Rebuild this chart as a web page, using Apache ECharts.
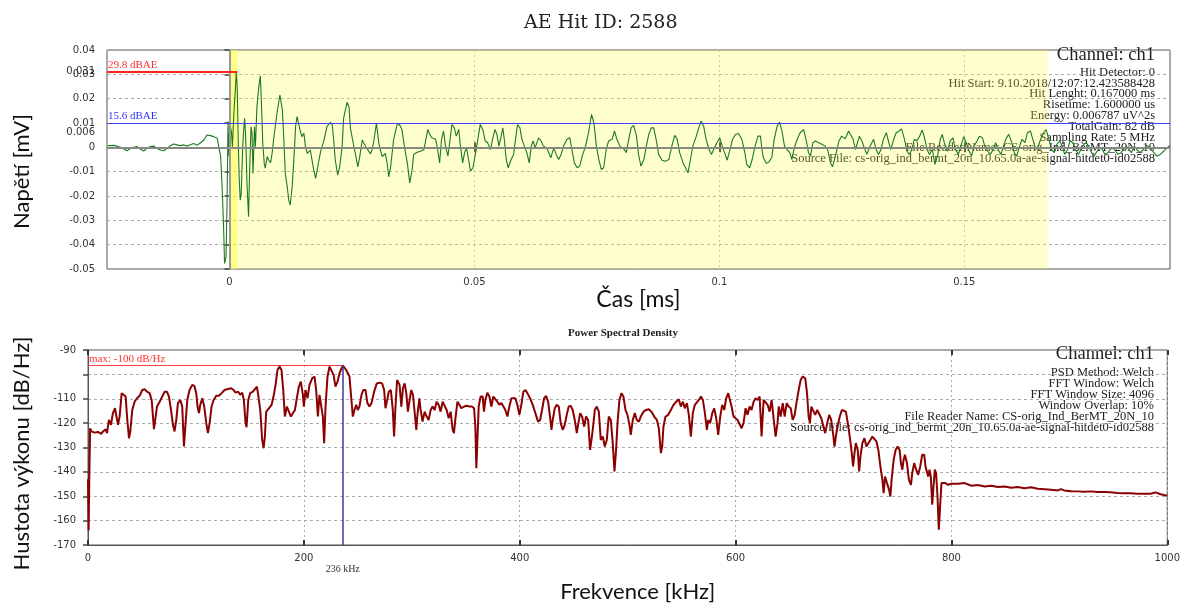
<!DOCTYPE html>
<html>
<head>
<meta charset="utf-8">
<script src="https://cdn.jsdelivr.net/npm/echarts@6/dist/echarts.min.js"></script>
<style>html,body{margin:0;padding:0;background:#fff;}#c{width:1183px;height:605px;}</style>
</head>
<body>
<div id="c"></div>
<script>
// ---- AE waveform (time in ms, voltage in mV) ----
const waveTime = [-0.0248,-0.0236,-0.0222,-0.0209,-0.0199,-0.0188,-0.0182,-0.0175,-0.0168,-0.0161,-0.0154,-0.0148,-0.0141,-0.0134,-0.0127,-0.012,-0.0114,-0.0107,-0.01,-0.0093,-0.0086,-0.008,-0.0073,-0.0066,-0.0059,-0.0052,-0.0046,-0.0039,-0.0032,-0.0029,-0.0025,-0.0022,-0.0018,-0.0015,-0.0012,-0.001,-0.0007,-0.0005,-0.0003,-0.0001,
0.0001,0.0002,0.0004,0.0006,0.0009,0.0012,0.0014,0.0016,0.0018,0.002,0.0022,0.0024,0.0027,0.0029,0.0031,0.0033,0.0036,0.0039,0.0041,0.0044,0.0046,0.0048,0.0051,0.0053,0.0056,0.006,0.0063,0.0065,0.0068,0.0071,0.0073,0.0077,0.008,0.0084,0.0087,0.009,0.0097,0.0103,0.0105,0.0108,0.0111,0.0114,0.0118,0.0121,0.0124,0.0128,0.0131,0.0135,0.0138,0.0141,0.0145,0.0148,0.0152,0.0155,0.0159,0.0165,0.0172,0.0176,0.0179,0.0186,0.0193,0.0199,0.0206,0.021,0.0213,0.0216,0.0221,0.0225,0.023,0.0233,0.024,0.0244,0.0247,0.0254,0.0257,0.0262,0.0266,0.0271,0.0274,0.0278,0.0281,0.0288,0.0291,0.0295,0.03,0.0305,0.0308,0.0312,0.0318,0.0322,0.0325,0.0329,0.0335,0.0342,0.0347,
0.0352,0.0357,0.0363,0.0368,0.0373,0.0376,0.0383,0.039,0.0397,0.0401,0.0405,0.0409,0.0413,0.0417,0.0421,0.0425,0.0429,0.0433,0.0437,0.0441,0.0446,0.045,0.0454,0.0459,0.0463,0.0468,0.0471,0.0476,0.048,0.0484,0.0488,0.0492,0.0497,0.0502,0.0507,0.0512,0.0518,0.0522,0.0527,0.0533,0.0537,0.0542,0.0546,0.055,0.0554,0.0558,0.0561,0.0565,0.0569,0.0575,0.058,0.0584,0.0588,0.0593,0.0597,0.0602,0.0607,0.0612,
0.0616,0.062,0.0624,0.0631,0.0636,0.0641,0.0647,0.0652,0.0656,0.0662,0.0667,0.0672,0.0677,0.0682,0.0689,0.0695,0.0699,0.0704,0.071,0.0715,0.072,0.0727,0.0733,0.0739,0.0744,0.0749,0.0754,0.0759,0.0764,0.0769,0.0774,0.0781,0.0786,0.0791,0.0797,0.0801,0.0806,0.081,0.0815,0.082,0.0825,0.0831,0.0835,0.084,0.0846,0.0851,0.0856,0.0861,0.0866,0.0871,0.0876,0.0883,0.089,0.0897,0.0903,0.0909,0.0914,0.0919,0.0926,0.0931,0.0936,0.0941,0.0946,0.0953,0.0958,0.0963,0.0968,0.0973,0.0979,0.0984,0.099,0.0995,0.1001,0.1006,0.1012,0.1016,0.1021,0.1027,0.1033,0.1039,0.1046,0.1052,0.1056,0.1062,0.1067,0.1073,0.1079,0.1084,0.1087,0.109,0.1096,0.1101,0.1107,0.1112,0.1118,0.1123,0.1128,0.1133,0.1138,0.1144,0.1148,0.1153,0.1159,0.1165,0.1172,0.1177,0.1182,0.1186,0.1191,0.1196,0.1203,0.121,0.1216,0.1221,0.1227,0.1231,0.1237,0.1244,0.125,0.1257,0.1264,
0.1273,0.1278,0.1282,0.1286,0.1291,0.1296,0.1301,0.1308,0.1315,0.132,0.1325,0.133,0.1335,0.1341,0.1346,0.135,0.1356,0.1361,0.1367,0.1372,0.1378,0.1383,0.1388,0.1393,0.1398,0.1403,0.1409,0.1414,0.1418,0.1424,0.1429,0.1435,0.144,0.1446,0.1451,0.1455,0.1461,0.1466,0.1471,0.1477,0.1482,0.1488,0.1493,0.1499,0.1504,0.151,0.1515,0.152,0.1526,0.1531,0.1537,0.1542,0.1548,0.1553,0.1559,0.1564,0.1569,0.1575,0.158,0.1586,0.1591,0.1597,0.1602,0.1607,0.1613,0.1618,0.1624,0.1629,0.1635,0.164,0.1646,0.1651,0.1656,0.1662,0.1667,0.1673,0.1678,0.1684,0.1689,0.1695,0.17,0.1705,0.1711,0.1716,0.1722,0.1727,0.1733,0.1738,0.1744,0.1749,0.1754,0.176,0.1765,0.1771,0.1776,0.1782,0.1787,0.1793,0.1798,0.1803,0.1809,0.1814,0.182,0.1825,0.1831,0.1836,0.1841,0.1847,0.1852,0.1859,0.1866,0.1873,0.188,0.1886,0.1893,0.19,0.1907,0.1914,0.192];
const waveVolt = [0.0007,0.0008,0,-0.0014,-0.0001,0.0003,-0.0007,-0.0015,-0.0003,0.0003,0.0005,-0.0005,-0.0011,-0.0014,-0.0003,0.0008,0.0014,0.001,0.0007,0.001,0.0005,0.0011,0.0016,0.0008,0.0019,0.003,0.0051,0.0048,0.0044,0.0049,0.0037,0.0044,-0.0038,-0.0162,-0.0326,-0.0477,-0.045,-0.0244,0.0106,-0.0038,
0.0126,0.0085,0.0064,0.0003,0.014,0.0236,0.0311,0.0236,0.0016,-0.0134,-0.0217,-0.0189,0.0003,0.0071,0.0119,0.0044,-0.0162,-0.0285,-0.0107,0.0085,0.0058,-0.0107,0.0085,0.0003,0.0167,0.025,0.0294,0.0195,0.0016,-0.0066,-0.0086,-0.0038,-0.0052,-0.0063,-0.0025,0.003,0.014,0.0215,0.0209,0.0154,0.003,-0.0107,-0.0162,-0.0217,-0.0237,-0.0162,-0.0066,0.0085,0.0126,0.0099,0.0064,0.0044,0.0058,0.0003,-0.0025,-0.0011,-0.0093,-0.0128,-0.0093,-0.0018,0.003,0.0085,0.0103,0.0092,0.0023,-0.0052,-0.0114,-0.008,0.0003,0.0119,0.0185,0.0167,0.0078,0.0003,-0.0025,-0.008,-0.0038,0.003,0.0023,0.0003,-0.0004,-0.0027,-0.0011,0.003,0.0099,0.0016,-0.0011,-0.0038,-0.0025,-0.0066,-0.0121,-0.008,0.003,0.0092,0.0094,
0.0074,0.0005,-0.0064,-0.0146,-0.0091,-0.0029,-0.002,-0.0016,-0.0009,0.0033,0.0074,0.0053,0.0039,0.0046,0.0033,-0.0009,-0.0064,0.0033,0.0067,0.0005,-0.0036,0.0026,0.0094,0.008,0.0046,0.0074,0.0012,-0.0064,-0.0022,-0.0002,-0.005,-0.0098,-0.0084,-0.0029,0.0033,0.0094,0.0067,0.0026,0.0019,-0.0009,0.0033,0.0074,0.0053,0.0005,0.0039,0.008,0.0033,-0.005,-0.0084,-0.005,-0.0029,0.0033,0.0094,0.008,0.0033,0.0005,-0.0022,-0.0064,
0.0005,0.0026,-0.0002,0.0039,0.0026,0.0005,-0.0002,-0.0022,-0.0043,-0.0002,-0.0029,-0.005,-0.0029,0.0005,0.0033,0.0039,-0.0009,-0.0064,-0.0084,-0.0077,-0.0036,0.0005,0.006,0.0135,0.0101,0.0005,-0.005,-0.0091,-0.0084,-0.0009,0.0026,0.0033,0.0067,0.0033,0.0005,0.0012,-0.0009,-0.0022,0.0033,0.008,0.009,0.0046,-0.0029,-0.0077,-0.005,0.0005,0.0053,0.008,0.008,0.0033,-0.0029,-0.0053,-0.0057,-0.005,0.0005,0.0049,0.0033,-0.0022,-0.0064,-0.0084,-0.0105,-0.005,0.0005,0.0046,0.008,0.0108,0.0087,0.0033,-0.0009,-0.0029,-0.0002,0.0019,0.0039,0.0005,-0.0029,-0.0053,-0.0016,0.0033,0.0053,0.0057,0.0033,-0.0022,-0.007,-0.0084,-0.005,0.0005,0.0046,0.0046,-0.0009,-0.0043,-0.0066,-0.006,-0.0043,0.0033,0.0087,0.0104,0.0067,0.0005,-0.0009,-0.0022,-0.005,-0.0002,0.0033,0.006,0.0073,0.0033,-0.0022,-0.0036,0.0019,0.0026,0.0019,0.0012,0.0005,-0.0009,-0.0064,-0.008,-0.0036,0.0026,0.0046,0.0035,0.0067,
0.0033,-0.0009,0.0019,0.0046,0.0026,-0.0002,-0.0029,0.0005,0.0033,-0.0009,-0.0029,-0.0009,0.0033,0.006,0.0019,-0.0009,0.0033,0.006,0.0067,0.0076,0.0033,-0.0016,-0.0029,-0.0009,0.0033,0.0026,0.0046,0.0071,0.0046,-0.0009,-0.0029,-0.0009,-0.007,-0.0029,0.0033,0.0053,0.0005,-0.0016,0.0026,0.0039,-0.0009,-0.0029,0.0005,0.0044,0.0019,-0.0016,-0.0036,0.0005,0.0026,0.0046,0.0039,0.0005,-0.0016,-0.0029,-0.0009,0.0019,-0.0009,-0.0029,0.0005,0.0039,0.0053,0.0019,-0.0022,-0.0036,0.0005,0.0033,0.0019,0.006,0.0067,0.0033,-0.0009,0.0005,0.0033,0.006,0.0073,0.0033,-0.0009,-0.0022,0.0012,0.0026,0.0005,-0.0029,-0.0009,0.0026,0.0019,-0.0009,-0.0029,-0.0009,0.0012,0.0019,0.0005,-0.0022,-0.0036,-0.0016,-0.0002,-0.0009,-0.0029,-0.0022,-0.0009,-0.0002,-0.0016,-0.0029,-0.0022,-0.0009,0.0005,-0.0009,-0.0022,0.0005,-0.0009,-0.0022,-0.0009,0.0008,-0.0002,-0.0019,-0.0036,-0.0029,-0.0016,-0.0002,0.0008];

// ---- Power spectral density (frequency in kHz, power in dB/Hz) ----
const psdFreq = [0,0.6,1.2,2,3.1,6.2,9.3,12.3,13.9,16.4,17.6,19.4,21.3,23.1,25,26.2,27.8,29.3,31.2,33,34.9,36.4,38,39.2,41,43.2,45.4,47.8,50.3,52.5,54.6,57.1,59,60.2,61.1,62.3,63.9,66.4,68.8,71,73.1,75,76.9,78.7,80.2,81.8,83.3,85.5,87.3,88.9,90.4,92,94.1,96.6,98.5,100.3,101.5,102.8,104,105.9,107.7,109.6,111.1,112.7,114.5,116.4,118.8,121.3,123.8,126.5,129.6,132.7,134.9,136.7,139.2,141,142.9,144.4,146,146.9,148.5,150.3,152.8,154.6,156.5,157.7,159.6,161.4,162.7,163.9,165.1,167.6,170.1,171.9,173.8,175.6,177.5,179.3,180.9,182.4,184.3,186.1,188,189.8,191.7,193.5,195.4,197.2,199.1,200,201.5,203.4,205.2,207.7,209.9,211.4,213,214.5,216,217.6,218.8,220.1,221.9,223.8,225.6,227.5,229.3,231.2,233,236.1,239.2,242.3,243.8,245.4,246.9,248.5,250,251.5,253.4,255.2,257.1,258.9,260.8,262.7,265.1,267.6,270.1,272.5,274.4,275.6,277.2,278.7,280.6,282.4,283.6,284.9,286.4,288.7,290.3,291.8,293.4,294.9,296.4,298,299.5,301.1,302.6,304.2,305.1,307,308.2,310,311.9,313.8,315.6,317.5,319.3,321.2,323,324.9,326.7,328.6,330.4,332.3,334.2,336,337.9,339.1,340.3,342.3,344.1,345.9,348.4,350.9,353.3,355.8,357.7,358.9,359.8,360.7,362,363.8,365.7,366.9,368.2,370,371.9,373.7,375.6,377.4,379.3,381.1,383,384.9,386.7,388.6,390.4,392.3,394.1,396,397.8,399.7,401.5,403.4,405.3,407.1,409.6,412.1,414.5,417,418.9,420.7,422.6,424.4,426.3,428.1,429.4,430.6,432.5,434.3,436.2,438,439.9,441.7,443.6,445.4,447.3,449.1,451,452.9,454.1,456,457.8,459.7,461.5,463.4,465.2,466.5,468,469.6,471.4,473.3,475.1,477,478.8,480.7,482.5,484.4,486.2,487.8,489.3,490.6,492.4,494.3,496.1,498,499.8,501.7,502.9,504.8,506.6,508.5,510.4,512.2,514.7,517.2,519.6,522.1,524.6,527.1,528.9,530.8,532,533.2,535.1,537.6,540,542.5,545,547.4,549.3,551.2,553,554.9,556.7,558.6,560.4,562.3,564.1,566,567.9,569.7,571.6,573.4,574.7,576.5,578.4,580.2,582.1,583.9,585.8,587.6,589.5,591.3,593.2,594.7,596.3,598.1,600,601.9,603.7,605.6,607.4,609.3,611.1,613,614.8,616.7,618.5,620.4,622.3,624.1,626,627.8,629.7,631.5,633.4,635.2,637.1,638.9,640,641.8,643.7,645.5,647.4,649.2,651.1,652.9,654.8,656.6,658.5,660.3,662.2,663.4,664.6,666.2,667.7,668.9,670.2,672,673.8,675.7,677.5,679.4,681.2,683.1,684.9,686.8,688.6,690.5,691.7,692.9,694.8,696.6,698.5,700.3,702.2,704,705.8,707.7,708.9,710.2,711.4,713.2,714.5,715.7,717.5,719.4,721.2,723.1,724.9,726.8,728.6,730.5,732.3,734.2,736,737.2,738.5,740.3,742.2,743.4,744.6,746.5,748.3,750.2,752,753.2,754.5,755.7,756.9,758.8,760.6,762.5,763.7,765.5,767.4,769.2,771.1,772.9,774.8,776,777.2,778.5,779.7,780.9,782.2,783.4,784.6,785.8,787.1,788.3,789.5,790.8,792.6,794.5,796.9,800,806.2,812.3,818.5,824.6,830.8,836.9,843.1,849.2,855.4,861.5,867.7,873.8,880,886.2,892.3,898.5,901.5,904.6,910.8,916.9,923.1,929.2,935.4,941.5,947.7,953.8,960,966.2,972.3,978.5,984.6,989.2,993.8,1000];
const psdPower = [-143,-164,-142,-122.1,-123.4,-123.9,-123.6,-124.4,-123.4,-122.5,-124.1,-118.7,-120.7,-115.9,-113.9,-114.6,-120.7,-117.3,-107.7,-107.1,-109.1,-118.7,-126.2,-123.4,-114.6,-111.2,-109.8,-108.8,-106.4,-106.1,-107.1,-107.7,-110.5,-117.3,-122.5,-118.7,-113.2,-111.2,-109.1,-107.1,-107.1,-109.1,-114.6,-120.7,-123.4,-118.7,-111.9,-110.5,-113.2,-129.6,-120,-110.5,-106.4,-104.3,-104.7,-107.7,-113.2,-115.9,-112.5,-109.8,-113.2,-120,-124.1,-120,-113.2,-110.5,-108.8,-108.8,-107.7,-106.4,-106,-105.7,-106.4,-107.5,-107.1,-108.4,-107.5,-110.5,-120,-121.7,-110.5,-107.7,-107.1,-106.4,-105,-108.4,-114.6,-126.9,-130.3,-125.5,-115.3,-113.9,-112.5,-109.1,-104.3,-98.2,-96.8,-98.2,-106.4,-117.3,-113.2,-113.9,-117.3,-118,-114.6,-109.8,-105,-103,-108.4,-113.2,-106.4,-109.8,-104.3,-101.6,-100.9,-106.4,-117.3,-108.4,-107.7,-117.3,-128.2,-113.2,-100.9,-96.8,-97.1,-100.2,-105,-103,-99.6,-96.3,-98.2,-100.9,-109.1,-117.3,-114.6,-112.5,-114.6,-113.2,-108.4,-106.4,-106.4,-111.8,-113.2,-111.8,-107.1,-103.7,-103.4,-103.7,-106.4,-113.9,-110.5,-107.1,-106.4,-114.6,-125.5,-113.2,-102.3,-104.3,-113.2,-105.7,-103.7,-107.7,-115.3,-110.5,-106.4,-108.4,-115.3,-122.8,-117.3,-109.8,-114.6,-119.4,-115.3,-117.3,-118.7,-114.6,-113.2,-114.6,-111.2,-112.5,-115.3,-111.2,-110.5,-114.6,-118,-115.3,-122.8,-124.1,-118.7,-111.2,-112.5,-113.9,-113.2,-112.9,-113.2,-113.2,-113.9,-121.4,-138.5,-128.2,-113.2,-109.1,-109.1,-115.3,-110.5,-107.5,-109.1,-113.2,-109.1,-108.8,-111.2,-112.5,-111.8,-113.2,-114.6,-117.3,-113.2,-109.8,-109.1,-109.8,-112.5,-116.6,-112.5,-107.1,-106.4,-107.7,-109.8,-112.5,-115.9,-119.4,-118.7,-114.6,-109.8,-108.8,-111.2,-117.3,-122.8,-118.7,-113.9,-112.5,-113.2,-120,-122.8,-120.7,-116.6,-113.2,-112.9,-114.6,-118.7,-124.1,-120.7,-115.9,-117.3,-121.4,-117.3,-118.7,-131,-126.9,-121.4,-114.6,-113.2,-115.3,-126.9,-125.5,-129.6,-126.9,-117.3,-118.7,-128.2,-139.8,-131,-120,-110.5,-107.7,-109.1,-114.6,-116.6,-120.7,-124.8,-118.7,-115.9,-118.7,-119.4,-117.3,-115.3,-114.6,-114.3,-115.3,-117.3,-118.7,-122.1,-132.3,-129.6,-121.4,-117.3,-116.6,-114.6,-112.5,-111.2,-110.2,-113.2,-111.2,-113.9,-111.8,-116.6,-125.5,-115.9,-112.5,-111.8,-110.5,-109.1,-110.5,-115.9,-122.8,-118.7,-120,-115.9,-113.9,-118,-124.8,-117.3,-112.5,-114.6,-109.8,-107.7,-107.1,-113.2,-117.3,-118,-118.7,-118,-122.1,-120,-113.9,-116.6,-113.2,-114.6,-111.2,-109.8,-110.5,-109.1,-125.5,-110.5,-109.8,-112.5,-115.3,-110.5,-110.5,-125.5,-120,-113.2,-117.3,-111.8,-117.3,-111.8,-113.2,-113.9,-118.7,-116.6,-111.2,-106.4,-102.3,-100.9,-100.2,-101.6,-107.7,-117.3,-120,-113.2,-112.5,-116.6,-114.6,-115.3,-118,-118.7,-124.1,-120,-116.6,-118.7,-124.8,-129.6,-125.5,-120.7,-117.3,-114.6,-113.9,-115.3,-120,-125.5,-132.3,-137.8,-132.3,-128.2,-131,-139.8,-133.7,-128.2,-126.2,-129.6,-128.2,-126.9,-125.5,-125.8,-127.5,-131,-137.8,-143.2,-148.7,-141.9,-144.6,-147.3,-150.1,-143.2,-135.1,-131,-129.6,-131,-136.4,-139.1,-135.1,-133,-136.4,-143.2,-145.3,-140.5,-136.4,-139.1,-141.2,-137.8,-133,-133,-137.8,-139.8,-141.9,-139.1,-141.9,-153.5,-146,-139.1,-140.5,-150.1,-163.7,-154.2,-144.6,-145.3,-144.6,-145.3,-144.9,-144.9,-144.6,-145.7,-145.4,-146,-145.7,-146.2,-146,-146.5,-146.2,-146.7,-146.3,-146.9,-147.1,-147.3,-147.6,-147.1,-147.6,-147.9,-148,-148.2,-148,-148.3,-148.3,-148.4,-148.7,-148.8,-148.8,-149,-149,-149,-148.4,-149.2,-149.8];

// ---- Ticks and annotations ----
const waveXTicks = [0, 0.05, 0.1, 0.15];
const waveYLabels = [-0.05,-0.04,-0.03,-0.02,-0.01,0,0.006,0.01,0.02,0.03,0.031,0.04];
const psdYLabels = [-170,-160,-150,-140,-130,-120,-110,-90];
const hitLength = 0.167, riseTime = 0.0016;
const thrHigh = 0.031, thrLow = 0.006;
const psdPeakFreq = 236, psdPeakPower = -96.3;
const hitInfo = ['Hit Detector: 0','Hit Start: 9.10.2018/12:07:12.423588428','Hit Lenght: 0.167000 ms','Risetime: 1.600000 us','Energy: 0.006787 uV^2s','TotalGain: 82 dB','Sampling Rate: 5 MHz','File Reader Name: CS-orig_Ind_BerMT_20N_10','Source File: cs-orig_ind_bermt_20n_10.65.0a-ae-signal-hitdet0-id02588'];
const psdInfo = ['PSD Method: Welch','FFT Window: Welch','FFT Window Size: 4096','Window Overlap: 10%','File Reader Name: CS-orig_Ind_BerMT_20N_10','Source File: cs-orig_ind_bermt_20n_10.65.0a-ae-signal-hitdet0-id02588'];

const waveData = waveTime.map((t, i) => [t, waveVolt[i]]);
const psdData = psdFreq.map((f, i) => [f, psdPower[i]]);

const SERIF = '"Liberation Serif", "DejaVu Serif", serif';
const WSERIF = '"DejaVu Serif", "Liberation Serif", serif';
const SANS = 'Lato, "Open Sans", sans-serif';
const tickFont = { fontFamily: '"DejaVu Sans", sans-serif', fontSize: 10, color: '#333' };

const chart = echarts.init(document.getElementById('c'), null, { renderer: 'canvas' });

const graphics = [];
graphics.push({ type: 'text', right: 28, top: 46, style: { text: 'Channel: ch1', font: '18.5px ' + SERIF, fill: '#222' } });
hitInfo.forEach((s, i) => graphics.push({ type: 'text', right: 28, top: 66 + i * 10.8, style: { text: s, font: '12.5px ' + SERIF, fill: '#222' } }));
graphics.push({ type: 'text', right: 29, top: 345, style: { text: 'Channel: ch1', font: '18.5px ' + SERIF, fill: '#222' } });
psdInfo.forEach((s, i) => graphics.push({ type: 'text', right: 29, top: 366 + i * 11.1, style: { text: s, font: '12.5px ' + SERIF, fill: '#222' } }));

const waveXMin = -0.025, waveXMax = 0.192;

chart.setOption({
  animation: false,
  title: [
    { text: 'AE Hit ID: 2588', left: 519, top: 9, textStyle: { fontFamily: WSERIF, fontSize: 19, fontWeight: 'normal', color: '#222' } },
    { text: 'Power Spectral Density', left: 563, top: 323, textStyle: { fontFamily: SERIF, fontSize: 11, fontWeight: 'bold', color: '#222' } }
  ],
  grid: [
    { left: 107, right: 13, top: 50, height: 219, show: true, borderColor: '#555', borderWidth: 1, backgroundColor: 'transparent' },
    { left: 88, right: 13, top: 350, height: 195, show: true, borderColor: '#555', borderWidth: 1, backgroundColor: 'transparent' }
  ],
  xAxis: [
    { type: 'value', gridIndex: 0, min: waveXMin, max: waveXMax,
      name: 'Čas [ms]', nameLocation: 'middle', nameGap: 16,
      nameTextStyle: { fontFamily: SANS, fontSize: 23, color: '#111' },
      axisLine: { show: true, lineStyle: { color: '#555' } },
      axisTick: { show: true, inside: true, length: 5, customValues: waveXTicks, lineStyle: { color: '#333', width: 2 } },
      axisLabel: { customValues: waveXTicks, margin: 8, ...tickFont, formatter: v => String(v) },
      splitLine: { show: true, lineStyle: { color: '#bbb', type: [2, 3] } } },
    { type: 'value', gridIndex: 0, position: 'top', min: waveXMin, max: waveXMax,
      axisLine: { show: false },
      axisTick: { show: true, inside: true, length: 5, customValues: waveXTicks, lineStyle: { color: '#333', width: 2 } },
      axisLabel: { show: false }, splitLine: { show: false } },
    { type: 'value', gridIndex: 1, min: 0, max: 1000, interval: 200,
      name: 'Frekvence [kHz]', nameLocation: 'middle', nameGap: 36,
      nameTextStyle: { fontFamily: SANS, fontSize: 22, color: '#111', padding: [0, 0, 0, 20] },
      axisLine: { show: true, lineStyle: { color: '#555' } },
      axisTick: { show: true, inside: true, length: 5, lineStyle: { color: '#333', width: 2 } },
      axisLabel: { margin: 8, ...tickFont, formatter: v => String(v) },
      splitLine: { show: true, lineStyle: { color: '#aaa', type: [2, 3] } } },
    { type: 'value', gridIndex: 1, position: 'top', min: 0, max: 1000, interval: 200,
      axisLine: { show: false },
      axisTick: { show: true, inside: true, length: 5, lineStyle: { color: '#333', width: 2 } },
      axisLabel: { show: false }, splitLine: { show: false } }
  ],
  yAxis: [
    { type: 'value', gridIndex: 0, min: -0.05, max: 0.04, interval: 0.01,
      name: 'Napětí [mV]', nameLocation: 'middle', nameGap: 74,
      nameTextStyle: { fontFamily: SANS, fontSize: 22, color: '#111', padding: [0, 24, 0, 0] },
      axisLine: { show: true, lineStyle: { color: '#555' } },
      axisTick: { show: false },
      axisLabel: { customValues: waveYLabels, margin: 12, ...tickFont, formatter: v => String(Math.round(v * 1000) / 1000) },
      splitLine: { show: true, lineStyle: { color: '#aaa', type: [3, 3] } } },
    { type: 'value', gridIndex: 0, position: 'right', min: -0.05, max: 0.04, interval: 0.01,
      axisLine: { show: false },
      axisTick: { show: true, inside: true, length: 5, lineStyle: { color: '#444', width: 1.5 } },
      axisLabel: { show: false }, splitLine: { show: false } },
    { type: 'value', gridIndex: 1, min: -170, max: -90, interval: 10,
      name: 'Hustota výkonu [dB/Hz]', nameLocation: 'middle', nameGap: 55,
      nameTextStyle: { fontFamily: SANS, fontSize: 22, color: '#111', padding: [0, 12, 0, 0] },
      axisLine: { show: true, lineStyle: { color: '#555' } },
      axisTick: { show: false },
      axisLabel: { customValues: psdYLabels, margin: 12, ...tickFont },
      splitLine: { show: true, lineStyle: { color: '#aaa', type: [3, 3] } } },
    { type: 'value', gridIndex: 1, position: 'right', min: -170, max: -90, interval: 10,
      axisLine: { show: false },
      axisTick: { show: true, inside: true, length: 5, lineStyle: { color: '#444', width: 1.5 } },
      axisLabel: { show: false }, splitLine: { show: false } }
  ],
  series: [
    { type: 'line', name: 'wave', xAxisIndex: 0, yAxisIndex: 0, data: waveData,
      showSymbol: false, symbol: 'none', sampling: 'none',
      lineStyle: { color: '#1c7a1c', width: 1.1 }, z: 3,
      markArea: { silent: true, data: [
        [{ xAxis: 0, itemStyle: { color: 'rgba(255,255,60,0.25)' } }, { xAxis: hitLength }],
        [{ xAxis: 0, itemStyle: { color: 'rgba(255,255,60,0.5)' } }, { xAxis: riseTime }]
      ] },
      markLine: { silent: true, symbol: 'none', animation: false, data: [
        { yAxis: 0, lineStyle: { color: '#888', width: 2, type: 'solid' }, label: { show: false } },
        { xAxis: 0, lineStyle: { color: '#999', width: 2, type: 'solid' }, label: { show: false } },
        { yAxis: thrLow, lineStyle: { color: '#4040ff', width: 1, type: 'solid' },
          label: { show: true, position: 'insideStartTop', formatter: '15.6 dBAE', color: '#3030ff', fontFamily: SERIF, fontSize: 11, distance: 1 } },
        [{ coord: [waveXMin, thrHigh], lineStyle: { color: '#ff2020', width: 2, type: 'solid' },
           label: { show: true, position: 'insideStartTop', formatter: '29.8 dBAE', color: '#ff3030', fontFamily: SERIF, fontSize: 11, distance: 1 } },
         { coord: [riseTime, thrHigh] }]
      ] } },
    { type: 'line', name: 'psd', xAxisIndex: 2, yAxisIndex: 2, data: psdData,
      showSymbol: false, symbol: 'none', sampling: 'none',
      lineStyle: { color: '#8b0000', width: 2 }, z: 3,
      markLine: { silent: true, symbol: 'none', animation: false, data: [
        [{ coord: [0, psdPeakPower], lineStyle: { color: '#ff4040', width: 1.2, type: 'solid' },
           label: { show: true, position: 'insideStartTop', formatter: 'max: -100 dB/Hz', color: '#ff3030', fontFamily: SERIF, fontSize: 11, distance: 1 } },
         { coord: [psdPeakFreq, psdPeakPower] }],
        [{ coord: [psdPeakFreq, -170], lineStyle: { color: '#3a3aa0', width: 1.5, type: 'solid' },
           label: { show: true, position: 'start', formatter: '236 kHz', color: '#333', fontFamily: SERIF, fontSize: 10, distance: 19 } },
         { coord: [psdPeakFreq, psdPeakPower] }]
      ] } }
  ],
  graphic: graphics
});
</script>
</body>
</html>
